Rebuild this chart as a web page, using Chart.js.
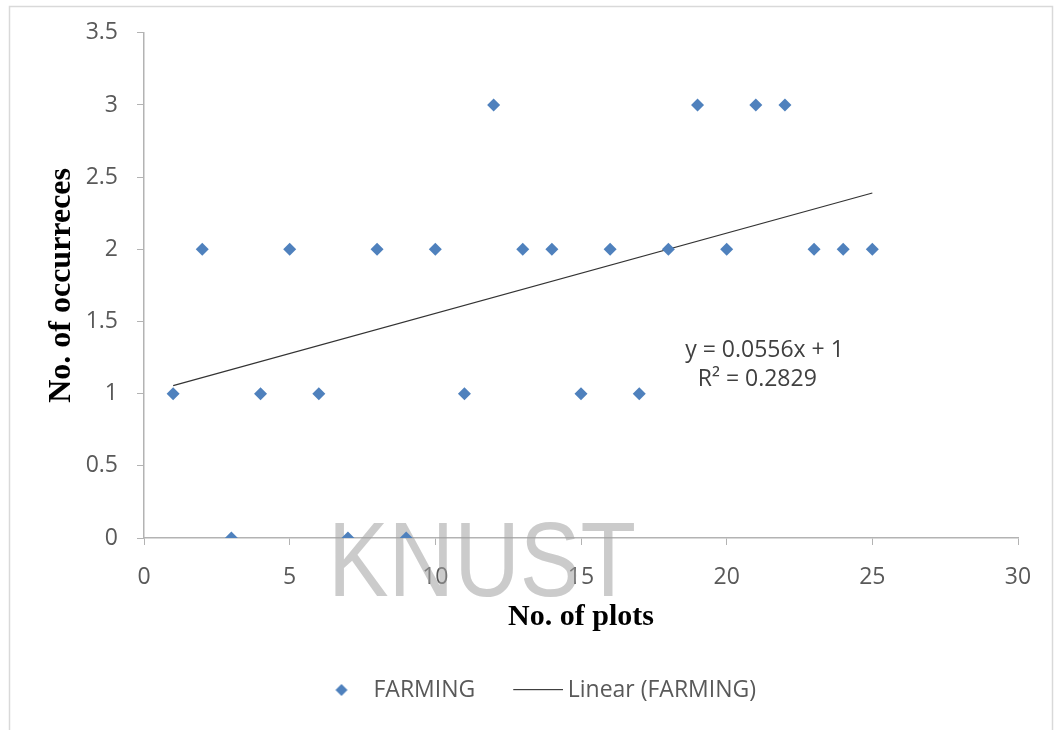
<!DOCTYPE html>
<html>
<head>
<meta charset="utf-8">
<script src="https://cdn.jsdelivr.net/npm/chart.js@4.4.0/dist/chart.umd.min.js"></script>
<style>
    html, body { margin: 0; padding: 0; background: #fff; }
    #wrap { width: 1059px; height: 730px; position: relative; }
</style>
</head>
<body>
<div id="wrap"><canvas id="farming-chart" width="1059" height="730"></canvas></div>
<script>
// plot numbers and counts
const plotNumbers = [1, 2, 3, 4, 5, 6, 7, 8, 9, 10, 11, 12, 13, 14, 15, 16, 17, 18, 19, 20, 21, 22, 23, 24, 25];
const occurrences = [1, 2, 0, 1, 2, 1, 0, 2, 0, 2, 1, 3, 2, 2, 1, 2, 1, 2, 3, 2, 3, 3, 2, 2, 2];

// trendline end points (y = 0.0556x + 1)
const trendX = [1, 25];
const trendY = [1.0556, 2.39];
const trendText = ['y = 0.0556x + 1', 'R² = 0.2829'];

const xTicks = [0, 5, 10, 15, 20, 25, 30];
const yTicks = [0, 0.5, 1, 1.5, 2, 2.5, 3, 3.5];
const yTickLabels = ['0', '0.5', '1', '1.5', '2', '2.5', '3', '3.5'];

const blue = '#4f81bd';
const tickColor = '#595959';
const axisColor = '#b3b3b3';

// small canvases used as legend symbols
function makeDiamond() {
    const c = document.createElement('canvas');
    c.width = 26; c.height = 14;
    const g = c.getContext('2d');
    g.fillStyle = blue;
    g.beginPath();
    g.moveTo(19, 1); g.lineTo(25, 7); g.lineTo(19, 13); g.lineTo(13, 7);
    g.closePath();
    g.fill();
    return c;
}
function makeLine() {
    const c = document.createElement('canvas');
    c.width = 67; c.height = 2;
    const g = c.getContext('2d');
    g.fillStyle = '#404040';
    g.fillRect(17, 0, 50, 1.2);
    return c;
}
const legendSymbols = [makeDiamond(), makeLine()];

const ctx = document.getElementById('farming-chart').getContext('2d');

new Chart(ctx, {
    type: 'scatter',
    data: {
        datasets: [{
            label: 'FARMING',
            data: plotNumbers.map((x, i) => ({ x: x, y: occurrences[i] })),
            pointStyle: 'rectRot',
            pointRadius: 6.5,
            pointHoverRadius: 6.5,
            backgroundColor: blue,
            borderColor: blue,
            borderWidth: 0
        }, {
            type: 'line',
            label: 'Linear (FARMING)',
            data: trendX.map((x, i) => ({ x: x, y: trendY[i] })),
            borderColor: '#333333',
            borderWidth: 1.2,
            pointRadius: 0,
            fill: false
        }]
    },
    options: {
        responsive: false,
        animation: false,
        layout: {
            padding: { left: 47, right: 41, top: 32, bottom: 18.5 }
        },
        plugins: {
            tooltip: { enabled: false },
            legend: {
                position: 'bottom',
                labels: {
                    usePointStyle: true,
                    pointStyleWidth: 53,
                    padding: 28,
                    color: tickColor,
                    font: { family: 'Open Sans', size: 23 },
                    generateLabels: function(chart) {
                        const items = Chart.defaults.plugins.legend.labels.generateLabels(chart);
                        items.forEach((item, i) => { item.pointStyle = legendSymbols[i]; });
                        return items;
                    }
                }
            }
        },
        scales: {
            x: {
                type: 'linear',
                min: 0,
                max: 30,
                afterBuildTicks: function(scale) {
                    scale.ticks = xTicks.map(v => ({ value: v }));
                },
                afterFit: function(scale) { scale.height = 112.5; },
                grid: { drawOnChartArea: false, drawTicks: true, tickLength: 7, color: axisColor },
                border: { color: axisColor, width: 1.5 },
                ticks: {
                    color: tickColor,
                    padding: 19,
                    maxRotation: 0,
                    font: { family: 'Open Sans', size: 23 }
                },
                title: {
                    display: true,
                    text: 'No. of plots',
                    color: '#000',
                    padding: { top: 0, bottom: 15 },
                    font: { family: 'Liberation Serif', size: 30, weight: 'bold' }
                }
            },
            y: {
                min: 0,
                max: 3.5,
                afterBuildTicks: function(scale) {
                    scale.ticks = yTicks.map(v => ({ value: v }));
                },
                afterFit: function(scale) { scale.width = 97; },
                grid: { drawOnChartArea: false, drawTicks: true, tickLength: 7, color: axisColor },
                border: { color: axisColor, width: 1.5 },
                ticks: {
                    color: tickColor,
                    padding: 19,
                    font: { family: 'Open Sans', size: 23 },
                    callback: function(value, index) {
                        return yTickLabels[index];
                    }
                },
                title: {
                    display: true,
                    text: 'No. of occurreces',
                    color: '#000',
                    padding: { top: -4, bottom: 0 },
                    font: { family: 'Liberation Serif', size: 32, weight: 'bold' }
                }
            }
        }
    },
    plugins: [{
        id: 'frameAndMarks',
        beforeDraw: function(chart) {
            const c = chart.ctx;
            c.save();
            c.fillStyle = '#fff';
            c.fillRect(0, 0, chart.width, chart.height);
            c.strokeStyle = '#d9d9d9';
            c.lineWidth = 1.5;
            c.strokeRect(9.5, 6.5, 1043, 760);
            c.restore();
        },
        beforeDatasetsDraw: function(chart) {
            // faint KNUST watermark from the scanned page
            const c = chart.ctx;
            c.save();
            c.font = '106px "Liberation Sans"';
            c.fillStyle = 'rgba(160, 160, 160, 0.55)';
            c.textBaseline = 'alphabetic';
            const w = c.measureText('KNUST').width;
            c.translate(328, 596);
            c.scale(308 / w, 1);
            c.fillText('KNUST', 0, 0);
            c.restore();
        },
        afterDatasetsDraw: function(chart) {
            // trendline equation
            const c = chart.ctx;
            const xs = chart.scales.x;
            const ys = chart.scales.y;
            c.save();
            c.fillStyle = '#404040';
            c.font = '23px "Open Sans"';
            c.textAlign = 'center';
            c.textBaseline = 'middle';
            c.fillText(trendText[0], xs.getPixelForValue(21.3), ys.getPixelForValue(1.3));
            c.fillText(trendText[1], xs.getPixelForValue(21.05), ys.getPixelForValue(1.095));
            c.restore();
        }
    }]
});
</script>
</body>
</html>
